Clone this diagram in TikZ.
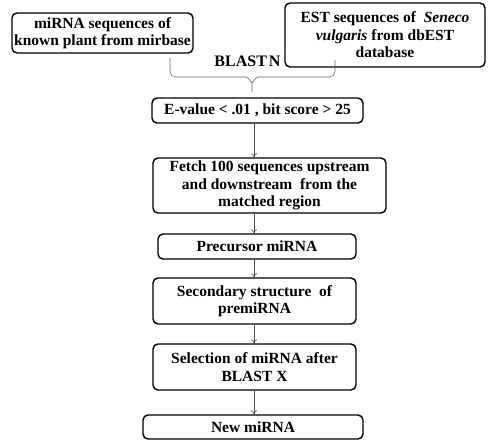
\documentclass[tikz,border=0pt]{standalone}
\usepackage{fontspec}
\setmainfont{Liberation Serif}
\usetikzlibrary{arrows.meta}
\begin{document}
\begin{tikzpicture}[x=1pt,y=-1pt,
  box/.style={draw=black,line width=1.4pt,rounded corners=5pt,align=center,
    inner sep=0pt,font=\bfseries\fontsize{15.5}{17.5}\selectfont},
  arr/.style={draw=black!70,line width=0.6pt,-{To[length=4pt,width=6pt]}},
  brace/.style={draw=black!60,line width=0.6pt}]
\useasboundingbox (0,0) rectangle (488,442);
\fill[white] (0,0) rectangle (488,442);
\node[box,minimum width=181pt,minimum height=40pt] (b1) at (102.5,33) {miRNA sequences of\\known plant from mirbase};
\node[box,minimum width=200pt,minimum height=64pt] (b2) at (385,35) {EST sequences of \ \textit{Seneco}\\\textit{vulgaris} from dbEST\\database};
\node[box,minimum width=211pt,minimum height=25pt] (b3) at (257.5,110.5) {E-value < .01 , bit score > 25};
\node[box,minimum width=233pt,minimum height=55pt] (b4) at (269.5,185.5) {Fetch 100 sequences upstream\\and downstream \ from the\\matched region};
\node[box,minimum width=198pt,minimum height=25pt] (b5) at (257,246.5) {Precursor miRNA};
\node[box,minimum width=203pt,minimum height=46pt] (b6) at (254.5,301) {Secondary structure \ of\\premiRNA};
\node[box,minimum width=203pt,minimum height=46pt] (b7) at (254.5,367) {Selection of miRNA after\\BLAST X};
\node[box,minimum width=220pt,minimum height=24pt] (b8) at (253,427) {New miRNA};
\node[font=\bfseries\fontsize{16}{19}\selectfont,inner sep=0pt] (bl) at (247.5,61) {BLAST\kern2pt N};
\coordinate (ax) at (254,0);
\coordinate (bl1) at (170,58);
\coordinate (br1) at (335,60);
\coordinate (tip) at (252,92);
\draw[brace] (bl1) -- (170,72) to[out=-90,in=180] (176,77) -- (246,77) to[out=0,in=-90] (252,82) -- (tip);
\draw[brace] (252,82) to[out=-90,in=180] (258,77) -- (329,77) to[out=0,in=-90] (335,72) -- (br1);
\draw[arr] (b3.south -| ax) -- (b4.north -| ax);
\draw[arr] (b4.south -| ax) -- (b5.north -| ax);
\draw[arr] (b5.south -| ax) -- (b6.north -| ax);
\draw[arr] (b6.south -| ax) -- (b7.north -| ax);
\draw[arr] (b7.south -| ax) -- (b8.north -| ax);
\end{tikzpicture}
\end{document}
